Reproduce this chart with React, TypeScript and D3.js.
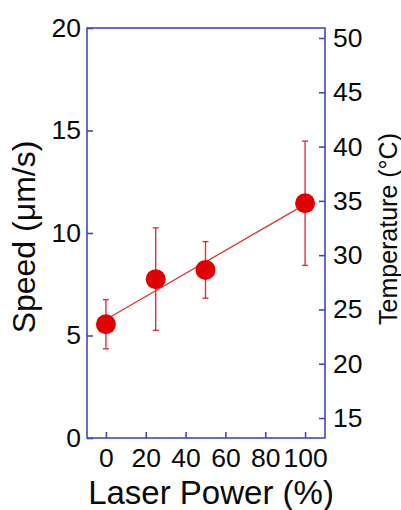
import React, { useEffect, useRef } from 'react';
import * as d3 from 'd3';

const power = [0, 25, 50, 100];
const speed = [5.55, 7.75, 8.2, 11.45];
const speedErr = [1.2, 2.5, 1.38, 3.03];
const fitLine = [
  [0, 5.78],
  [100, 11.4],
];
const xTicks = [0, 20, 40, 60, 80, 100];
const speedTicks = [0, 5, 10, 15, 20];
const tempTicks = [15, 20, 25, 30, 35, 40, 45, 50];

const width = 401;
const height = 510;
const frame = { left: 87, right: 325, top: 28, bottom: 438 };
const axisColor = '#4444d4';
const red = '#e00000';
const font = '"Liberation Sans", Arial, sans-serif';

const Chart = () => {
  const svgRef = useRef<SVGSVGElement>(null);

  useEffect(() => {
    const svg = d3.select(svgRef.current);
    svg.selectAll('*').remove();

    const x = d3.scaleLinear().domain([-9.5, 110]).range([frame.left, frame.right]);
    const y = d3.scaleLinear().domain([0, 20]).range([frame.bottom, frame.top]);
    const yT = d3.scaleLinear().domain([13.16, 50.92]).range([frame.bottom, frame.top]);

    const styleAxis = (g) => {
      g.select('.domain').remove();
      g.selectAll('line').attr('stroke', axisColor).attr('stroke-width', 1.6);
      g.selectAll('text')
        .attr('fill', '#0a0a0a')
        .style('font-family', font)
        .style('font-size', '26.5px');
    };

    // frame
    svg
      .append('rect')
      .attr('x', frame.left)
      .attr('y', frame.top)
      .attr('width', frame.right - frame.left)
      .attr('height', frame.bottom - frame.top)
      .attr('fill', 'none')
      .attr('stroke', axisColor)
      .attr('stroke-width', 1.6);

    svg
      .append('g')
      .attr('transform', `translate(${frame.left},0)`)
      .call(d3.axisLeft(y).tickValues(speedTicks).tickSizeInner(-6).tickSizeOuter(0).tickPadding(6))
      .attr('font-family', null)
      .attr('font-size', null)
      .call(styleAxis);

    svg
      .append('g')
      .attr('transform', `translate(${frame.right},0)`)
      .call(d3.axisRight(yT).tickValues(tempTicks).tickSizeInner(-6).tickSizeOuter(0).tickPadding(8))
      .attr('font-family', null)
      .attr('font-size', null)
      .call(styleAxis);

    svg
      .append('g')
      .attr('transform', `translate(0,${frame.bottom})`)
      .call(d3.axisBottom(x).tickValues(xTicks).tickSizeInner(-6).tickSizeOuter(0).tickPadding(10))
      .attr('font-family', null)
      .attr('font-size', null)
      .call(styleAxis);

    // fit line
    svg
      .append('path')
      .datum(fitLine)
      .attr(
        'd',
        d3
          .line()
          .x((d) => x(d[0]))
          .y((d) => y(d[1]))
      )
      .attr('fill', 'none')
      .attr('stroke', '#e03838')
      .attr('stroke-width', 1.4);

    // error bars
    const pts = power.map((p, i) => ({ p, s: speed[i], e: speedErr[i] }));
    const eb = svg.append('g').attr('stroke', '#e03040').attr('stroke-width', 1.4);
    pts.forEach((d) => {
      eb.append('line')
        .attr('x1', x(d.p))
        .attr('x2', x(d.p))
        .attr('y1', y(d.s - d.e))
        .attr('y2', y(d.s + d.e));
      [d.s - d.e, d.s + d.e].forEach((v) => {
        eb.append('line')
          .attr('x1', x(d.p) - 3)
          .attr('x2', x(d.p) + 3)
          .attr('y1', y(v))
          .attr('y2', y(v));
      });
    });

    svg
      .append('g')
      .selectAll('circle')
      .data(pts)
      .enter()
      .append('circle')
      .attr('cx', (d) => x(d.p))
      .attr('cy', (d) => y(d.s))
      .attr('r', 10)
      .attr('fill', red);

    // titles
    svg
      .append('text')
      .attr('x', 211)
      .attr('y', 504)
      .attr('text-anchor', 'middle')
      .style('font-family', font)
      .style('font-size', '33px')
      .attr('fill', '#0a0a0a')
      .text('Laser Power (%)');

    svg
      .append('text')
      .attr('transform', 'translate(35,237) rotate(-90)')
      .attr('text-anchor', 'middle')
      .style('font-family', font)
      .style('font-size', '32px')
      .attr('fill', '#0a0a0a')
      .text('Speed (\u03bcm/s)');

    svg
      .append('text')
      .attr('transform', 'translate(397,229) rotate(-90)')
      .attr('text-anchor', 'middle')
      .style('font-family', font)
      .style('font-size', '25px')
      .attr('fill', '#0a0a0a')
      .text('Temperature (\u00b0C)');
  }, []);

  return (
    <svg
      ref={svgRef}
      width={width}
      height={height}
      style={{ position: 'absolute', left: 0, top: 0, background: '#fff' }}
    />
  );
};

export default function App() {
  return <Chart />;
}
